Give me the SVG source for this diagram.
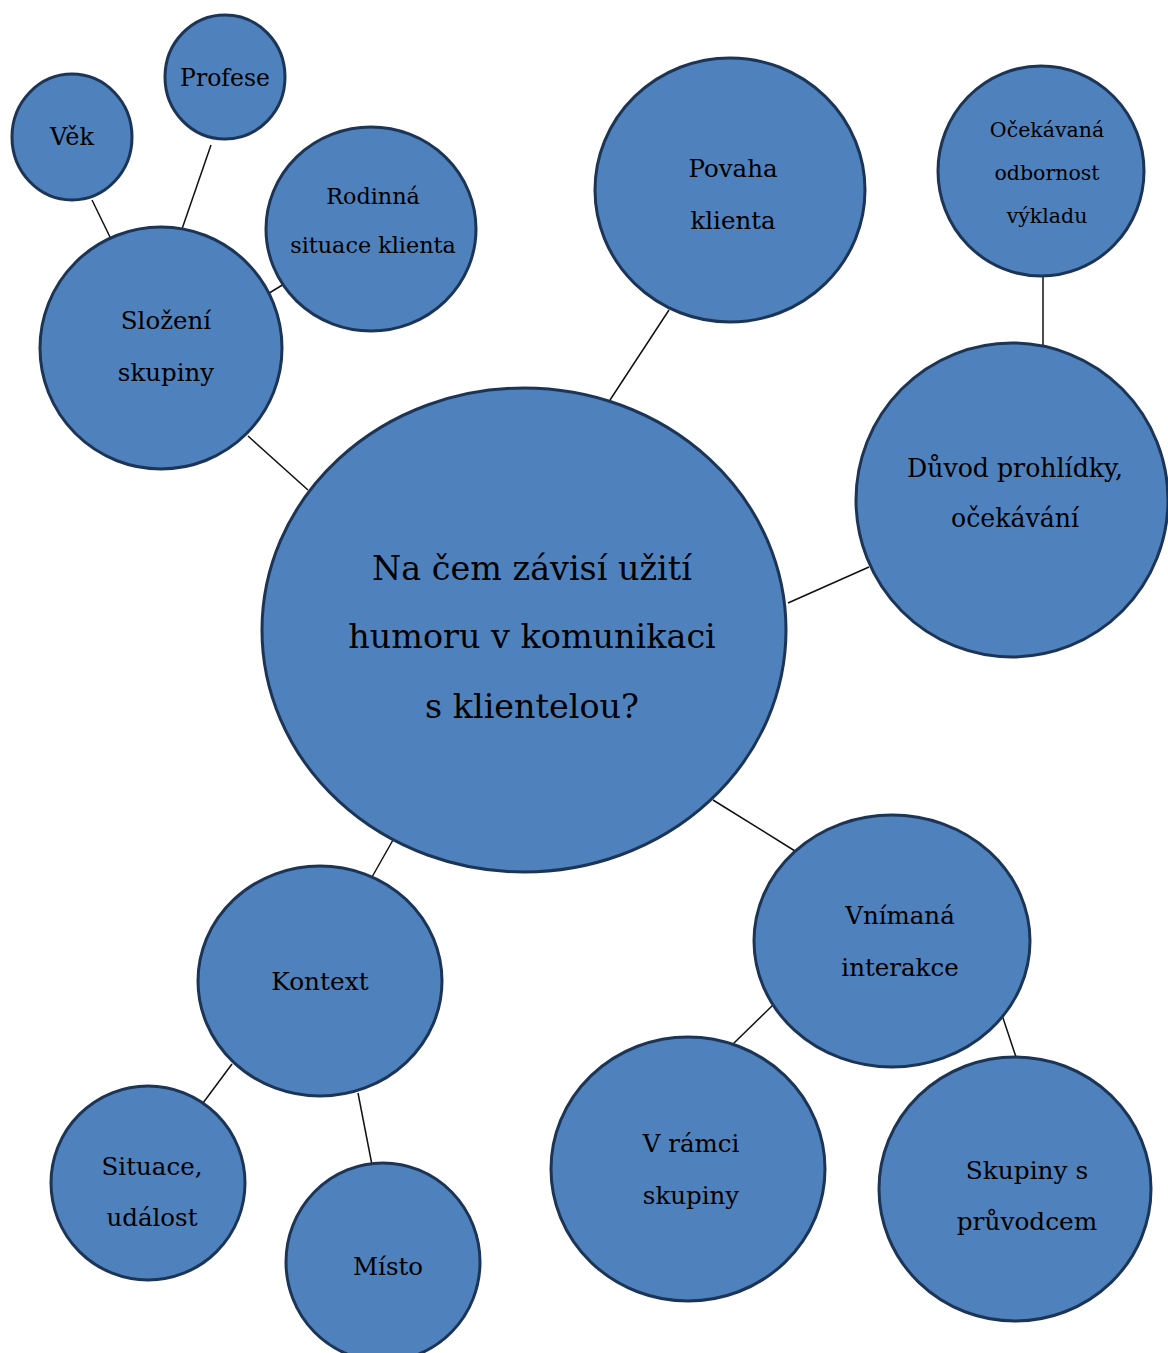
<svg xmlns="http://www.w3.org/2000/svg" width="1168" height="1353" viewBox="0 0 1168 1353">
<style>
.n{fill:#4f81bd;stroke:#1c3556;stroke-width:3}
.c{stroke:#111;stroke-width:1.5;fill:none}
text{font-family:"DejaVu Serif","Liberation Serif",serif;fill:#000;text-anchor:middle;dominant-baseline:central}
</style>
<rect width="1168" height="1353" fill="#fff"/>
<g id="connectors">
<line class="c" x1="92" y1="200" x2="110" y2="237"/>
<line class="c" x1="211" y1="145" x2="182" y2="229"/>
<line class="c" x1="266" y1="295" x2="284" y2="284"/>
<line class="c" x1="248" y1="436" x2="308" y2="490"/>
<line class="c" x1="669" y1="310" x2="610" y2="400"/>
<line class="c" x1="1043" y1="276" x2="1043" y2="345"/>
<line class="c" x1="869" y1="567" x2="788" y2="603"/>
<line class="c" x1="713" y1="800" x2="795" y2="851"/>
<line class="c" x1="393" y1="840" x2="372" y2="877"/>
<line class="c" x1="232" y1="1064" x2="203" y2="1103"/>
<line class="c" x1="358" y1="1093" x2="372" y2="1165"/>
<line class="c" x1="773" y1="1005" x2="733" y2="1044"/>
<line class="c" x1="1002" y1="1015" x2="1016" y2="1057"/>
</g>
<g id="vek"><ellipse class="n" cx="72" cy="137" rx="60" ry="63"/><text x="72" y="137" font-size="24">Věk</text></g>
<g id="profese"><ellipse class="n" cx="225" cy="77" rx="60" ry="62"/><text x="225" y="78" font-size="23.5">Profese</text></g>
<g id="rodinna"><ellipse class="n" cx="371" cy="229" rx="105" ry="102"/><text x="373" y="196" font-size="22.3">Rodinná</text><text x="373" y="245" font-size="22.3">situace klienta</text></g>
<g id="slozeni"><ellipse class="n" cx="161" cy="348" rx="121" ry="121"/><text x="166" y="320" font-size="24.5">Složení</text><text x="166" y="372" font-size="24.5">skupiny</text></g>
<g id="povaha"><ellipse class="n" cx="730" cy="190" rx="135" ry="132"/><text x="733" y="168" font-size="24.5">Povaha</text><text x="733" y="220" font-size="24.5">klienta</text></g>
<g id="ocekavana"><ellipse class="n" cx="1041" cy="171" rx="103" ry="105"/><text x="1047" y="130" font-size="20.5">Očekávaná</text><text x="1047" y="173" font-size="20.5">odbornost</text><text x="1047" y="216" font-size="20.5">výkladu</text></g>
<g id="duvod"><ellipse class="n" cx="1012" cy="500" rx="156" ry="157"/><text x="1015" y="468" font-size="25.2">Důvod prohlídky,</text><text x="1015" y="518" font-size="25.2">očekávání</text></g>
<g id="center"><ellipse class="n" cx="524" cy="630" rx="262" ry="242"/><text x="532" y="568" font-size="33.4">Na čem závisí užití</text><text x="532" y="636" font-size="33.4">humoru v komunikaci</text><text x="532" y="706" font-size="33.4">s klientelou?</text></g>
<g id="kontext"><ellipse class="n" cx="320" cy="981" rx="122" ry="115"/><text x="320" y="981" font-size="24.8">Kontext</text></g>
<g id="situace"><ellipse class="n" cx="148" cy="1183" rx="97" ry="97"/><text x="152" y="1166" font-size="24.5">Situace,</text><text x="152" y="1217" font-size="24.5">událost</text></g>
<g id="misto"><ellipse class="n" cx="383" cy="1262" rx="97" ry="99"/><text x="388" y="1266" font-size="24.5">Místo</text></g>
<g id="vnimana"><ellipse class="n" cx="892" cy="941" rx="138" ry="126"/><text x="900" y="915" font-size="24.5">Vnímaná</text><text x="900" y="967" font-size="24.5">interakce</text></g>
<g id="vramci"><ellipse class="n" cx="688" cy="1169" rx="137" ry="132"/><text x="691" y="1143" font-size="24.5">V rámci</text><text x="691" y="1195" font-size="24.5">skupiny</text></g>
<g id="skupiny"><ellipse class="n" cx="1015" cy="1189" rx="136" ry="132"/><text x="1027" y="1170" font-size="24.8">Skupiny s</text><text x="1027" y="1221" font-size="24.8">průvodcem</text></g>
</svg>
